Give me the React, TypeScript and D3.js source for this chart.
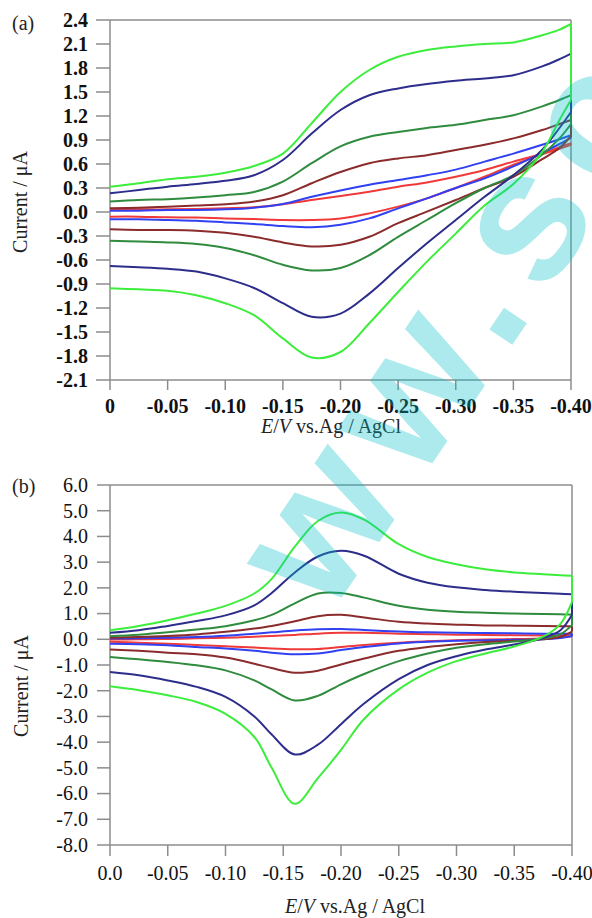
import React from 'react';
import * as d3 from 'd3';

// ---------- Panel (a) data ----------
const E_A = [0, -0.025, -0.05, -0.075, -0.1, -0.125, -0.15, -0.175, -0.2, -0.225, -0.25, -0.275, -0.3, -0.325, -0.35, -0.375, -0.39, -0.4];
const A_GREEN_UP = [0.317, 0.36, 0.41, 0.44, 0.49, 0.575, 0.73, 1.11, 1.5, 1.775, 1.94, 2.025, 2.07, 2.1, 2.12, 2.21, 2.28, 2.35];
const A_GREEN_LO = [-0.954, -0.967, -0.983, -1.04, -1.14, -1.29, -1.58, -1.82, -1.75, -1.39, -1.0, -0.62, -0.27, 0.08, 0.35, 0.75, 1.15, 1.4];
const A_NAVY_UP = [0.233, 0.275, 0.317, 0.35, 0.39, 0.46, 0.65, 0.98, 1.275, 1.46, 1.545, 1.6, 1.64, 1.67, 1.71, 1.82, 1.91, 1.98];
const A_NAVY_LO = [-0.675, -0.69, -0.71, -0.745, -0.83, -0.95, -1.14, -1.31, -1.27, -1.02, -0.7, -0.39, -0.1, 0.19, 0.46, 0.78, 1.05, 1.25];
const A_DKGREEN_UP = [0.13, 0.15, 0.16, 0.18, 0.21, 0.25, 0.38, 0.61, 0.82, 0.94, 1.0, 1.05, 1.09, 1.15, 1.21, 1.32, 1.4, 1.46];
const A_DKGREEN_LO = [-0.36, -0.37, -0.38, -0.4, -0.45, -0.54, -0.66, -0.73, -0.7, -0.54, -0.31, -0.1, 0.11, 0.3, 0.46, 0.72, 0.92, 1.1];
const A_BROWN_UP = [0.046, 0.054, 0.067, 0.08, 0.096, 0.13, 0.21, 0.36, 0.5, 0.61, 0.67, 0.71, 0.775, 0.84, 0.92, 1.025, 1.1, 1.15];
const A_BROWN_LO = [-0.217, -0.225, -0.225, -0.233, -0.26, -0.31, -0.38, -0.43, -0.41, -0.31, -0.14, 0.004, 0.15, 0.3, 0.44, 0.66, 0.8, 0.95];
const A_BLUE_UP = [0.017, 0.017, 0.025, 0.025, 0.033, 0.054, 0.1, 0.19, 0.27, 0.34, 0.4, 0.46, 0.53, 0.63, 0.73, 0.84, 0.91, 0.96];
const A_BLUE_LO = [-0.09, -0.09, -0.1, -0.11, -0.13, -0.15, -0.175, -0.19, -0.16, -0.08, 0.046, 0.17, 0.3, 0.42, 0.57, 0.74, 0.85, 0.93];
const A_RED_UP = [0.033, 0.033, 0.033, 0.037, 0.046, 0.058, 0.096, 0.15, 0.2, 0.254, 0.317, 0.37, 0.44, 0.525, 0.63, 0.73, 0.81, 0.86];
const A_RED_LO = [-0.058, -0.058, -0.067, -0.07, -0.08, -0.088, -0.1, -0.1, -0.08, -0.017, 0.067, 0.17, 0.3, 0.44, 0.59, 0.72, 0.79, 0.84];

const A_Y_TICKS = [2.4, 2.1, 1.8, 1.5, 1.2, 0.9, 0.6, 0.3, 0.0, -0.3, -0.6, -0.9, -1.2, -1.5, -1.8, -2.1];
const A_Y_LABELS = ['2.4', '2.1', '1.8', '1.5', '1.2', '0.9', '0.6', '0.3', '0.0', '-0.3', '-0.6', '-0.9', '-1.2', '-1.5', '-1.8', '-2.1'];
const A_X_TICKS = [0, -0.05, -0.1, -0.15, -0.2, -0.25, -0.3, -0.35, -0.4];
const A_X_LABELS = ['0', '-0.05', '-0.10', '-0.15', '-0.20', '-0.25', '-0.30', '-0.35', '-0.40'];

// ---------- Panel (b) data ----------
const E_B = [0, -0.025, -0.05, -0.075, -0.1, -0.125, -0.14, -0.16, -0.18, -0.2, -0.22, -0.25, -0.275, -0.3, -0.325, -0.35, -0.375, -0.39, -0.4];
const B_GREEN_UP = [0.35, 0.52, 0.74, 1.0, 1.3, 1.78, 2.35, 3.6, 4.6, 4.93, 4.65, 3.7, 3.2, 2.92, 2.72, 2.6, 2.53, 2.49, 2.47];
const B_GREEN_LO = [-1.83, -1.98, -2.18, -2.44, -2.9, -3.8, -5.0, -6.4, -5.4, -4.3, -3.1, -1.95, -1.3, -0.85, -0.55, -0.28, 0.1, 0.6, 1.45];
const B_NAVY_UP = [0.25, 0.35, 0.52, 0.71, 0.93, 1.32, 1.8, 2.6, 3.22, 3.44, 3.25, 2.55, 2.2, 2.02, 1.92, 1.85, 1.8, 1.77, 1.75];
const B_NAVY_LO = [-1.27, -1.4, -1.6, -1.85, -2.24, -3.0, -3.7, -4.48, -4.1, -3.3, -2.5, -1.55, -1.0, -0.66, -0.4, -0.2, 0.05, 0.35, 0.95];
const B_DKGREEN_UP = [0.12, 0.18, 0.27, 0.38, 0.51, 0.74, 0.95, 1.4, 1.78, 1.8, 1.62, 1.3, 1.15, 1.07, 1.03, 1.0, 0.98, 0.97, 0.96];
const B_DKGREEN_LO = [-0.69, -0.78, -0.88, -1.01, -1.21, -1.6, -1.95, -2.38, -2.2, -1.75, -1.35, -0.85, -0.55, -0.33, -0.19, -0.09, 0.03, 0.2, 0.55];
const B_BROWN_UP = [0.06, 0.09, 0.13, 0.19, 0.29, 0.42, 0.52, 0.7, 0.9, 0.95, 0.85, 0.68, 0.61, 0.57, 0.54, 0.53, 0.52, 0.51, 0.51];
const B_BROWN_LO = [-0.4, -0.45, -0.52, -0.58, -0.71, -0.95, -1.12, -1.3, -1.22, -0.98, -0.75, -0.45, -0.3, -0.19, -0.11, -0.06, 0.0, 0.1, 0.3];
const B_BLUE_UP = [0.03, 0.04, 0.06, 0.09, 0.14, 0.22, 0.27, 0.34, 0.39, 0.4, 0.36, 0.3, 0.27, 0.25, 0.24, 0.23, 0.22, 0.22, 0.22];
const B_BLUE_LO = [-0.17, -0.19, -0.23, -0.3, -0.36, -0.45, -0.52, -0.58, -0.55, -0.42, -0.3, -0.16, -0.1, -0.06, -0.04, -0.02, 0.0, 0.05, 0.12];
const B_RED_UP = [-0.01, 0.0, 0.01, 0.04, 0.06, 0.1, 0.13, 0.17, 0.22, 0.25, 0.25, 0.22, 0.2, 0.18, 0.17, 0.16, 0.15, 0.14, 0.14];
const B_RED_LO = [-0.1, -0.13, -0.17, -0.22, -0.27, -0.32, -0.36, -0.39, -0.38, -0.3, -0.22, -0.13, -0.08, -0.04, -0.01, 0.01, 0.03, 0.07, 0.14];

const B_Y_TICKS = [6, 5, 4, 3, 2, 1, 0, -1, -2, -3, -4, -5, -6, -7, -8];
const B_Y_LABELS = ['6.0', '5.0', '4.0', '3.0', '2.0', '1.0', '0.0', '-1.0', '-2.0', '-3.0', '-4.0', '-5.0', '-6.0', '-7.0', '-8.0'];
const B_X_TICKS = [0, -0.05, -0.1, -0.15, -0.2, -0.25, -0.3, -0.35, -0.4];
const B_X_LABELS = ['0.0', '-0.05', '-0.10', '-0.15', '-0.20', '-0.25', '-0.30', '-0.35', '-0.40'];

const COLORS = {
  red: '#f03a3a',
  blue: '#3040f2',
  brown: '#8b2b2b',
  dkgreen: '#2f8b3e',
  navy: '#2d2d8c',
  green: '#3ced3c',
};

const SERIES_A = [
  { color: COLORS.red, up: A_RED_UP, lo: A_RED_LO },
  { color: COLORS.blue, up: A_BLUE_UP, lo: A_BLUE_LO },
  { color: COLORS.brown, up: A_BROWN_UP, lo: A_BROWN_LO },
  { color: COLORS.dkgreen, up: A_DKGREEN_UP, lo: A_DKGREEN_LO },
  { color: COLORS.navy, up: A_NAVY_UP, lo: A_NAVY_LO },
  { color: COLORS.green, up: A_GREEN_UP, lo: A_GREEN_LO },
];
const SERIES_B = [
  { color: COLORS.red, up: B_RED_UP, lo: B_RED_LO },
  { color: COLORS.blue, up: B_BLUE_UP, lo: B_BLUE_LO },
  { color: COLORS.brown, up: B_BROWN_UP, lo: B_BROWN_LO },
  { color: COLORS.dkgreen, up: B_DKGREEN_UP, lo: B_DKGREEN_LO },
  { color: COLORS.navy, up: B_NAVY_UP, lo: B_NAVY_LO },
  { color: COLORS.green, up: B_GREEN_UP, lo: B_GREEN_LO },
];

const AXIS = '#8c8c8c';
const SERIF = '"Liberation Serif", "Times New Roman", serif';

type PanelProps = {
  E: number[];
  series: { color: string; up: number[]; lo: number[] }[];
  left: number; right: number; top: number; bottom: number;
  yDomain: [number, number];
  yTicks: number[]; yLabels: string[];
  xTicks: number[]; xLabels: string[];
  bold: boolean;
  tag: string; tagY: number;
  xLabelY: number; xTitleX: number; xTitleY: number;
  yTitleX: number; yTitleY: number;
  yTickLen: number; xTickLen: number;
};

function Panel(p: PanelProps) {
  const x = d3.scaleLinear().domain([0, -0.4]).range([p.left, p.right]);
  const y = d3.scaleLinear().domain(p.yDomain).range([p.bottom, p.top]);
  const line = d3.line<number>()
    .x((_, i) => x(p.E[i]))
    .y((d) => y(d))
    .curve(d3.curveCatmullRom.alpha(0.5));
  const last = p.E.length - 1;
  const fw = p.bold ? 'bold' : 'normal';
  return (
    <g>
      {/* frame */}
      <line x1={p.left} x2={p.right} y1={p.top} y2={p.top} stroke={AXIS} strokeWidth={1.5} />
      <line x1={p.right} x2={p.right} y1={p.top} y2={p.bottom} stroke={AXIS} strokeWidth={1.5} />
      <line x1={p.left} x2={p.right} y1={p.bottom} y2={p.bottom} stroke={AXIS} strokeWidth={1.5} />
      <line x1={p.left} x2={p.left} y1={p.top} y2={p.bottom} stroke={AXIS} strokeWidth={1.5} />
      {/* curves */}
      {p.series.map((s, k) => (
        <g key={k} fill="none" stroke={s.color} strokeWidth={2}>
          <path d={line(s.lo) || ''} />
          <path d={line(s.up) || ''} />
          <line x1={x(p.E[last])} x2={x(p.E[last])} y1={y(s.lo[last])} y2={y(s.up[last])} />
        </g>
      ))}
      {/* y ticks */}
      {p.yTicks.map((t, i) => (
        <g key={'y' + i}>
          <line x1={p.left - p.yTickLen} x2={p.left} y1={y(t)} y2={y(t)} stroke={AXIS} strokeWidth={1.5} />
          <text x={p.left - 22} y={y(t)} dy="0.34em" textAnchor="end" fontFamily={SERIF} fontWeight={fw} fontSize={20} fill="#111">
            {p.yLabels[i]}
          </text>
        </g>
      ))}
      {/* x ticks */}
      {p.xTicks.map((t, i) => (
        <g key={'x' + i}>
          <line x1={x(t)} x2={x(t)} y1={p.bottom} y2={p.bottom + p.xTickLen} stroke={AXIS} strokeWidth={1.5} />
          <text x={x(t)} y={p.xLabelY} textAnchor="middle" fontFamily={SERIF} fontWeight={fw} fontSize={20} fill="#111">
            {p.xLabels[i]}
          </text>
        </g>
      ))}
      {/* titles */}
      <text x={p.xTitleX} y={p.xTitleY} textAnchor="middle" fontFamily={SERIF} fontSize={20} fill="#222">
        <tspan fontStyle="italic">E</tspan>/<tspan fontStyle="italic">V</tspan> vs.Ag / AgCl
      </text>
      <text transform={`translate(${p.yTitleX},${p.yTitleY}) rotate(-90)`} textAnchor="middle" fontFamily={SERIF} fontSize={20} fill="#222">
        Current / μA
      </text>
      <text x={12} y={p.tagY} fontFamily={SERIF} fontSize={20} fill="#222">{p.tag}</text>
    </g>
  );
}

export default function App() {
  return (
    <svg width={592} height={918} style={{ position: 'absolute', left: 0, top: 0, background: '#fff' }}>
      <rect width={592} height={918} fill="#fff" />
      <Panel
        E={E_A} series={SERIES_A}
        left={110} right={571} top={20} bottom={380}
        yDomain={[-2.1, 2.4]} yTicks={A_Y_TICKS} yLabels={A_Y_LABELS}
        xTicks={A_X_TICKS} xLabels={A_X_LABELS} bold={true}
        tag="(a)" tagY={30}
        xLabelY={413} xTitleX={331} xTitleY={433}
        yTitleX={27} yTitleY={202}
        yTickLen={14} xTickLen={10}
      />
      <Panel
        E={E_B} series={SERIES_B}
        left={110} right={572} top={485} bottom={845}
        yDomain={[-8, 6]} yTicks={B_Y_TICKS} yLabels={B_Y_LABELS}
        xTicks={B_X_TICKS} xLabels={B_X_LABELS} bold={false}
        tag="(b)" tagY={493}
        xLabelY={880} xTitleX={355} xTitleY={913}
        yTitleX={28} yTitleY={686}
        yTickLen={13} xTickLen={11}
      />
      <text
        transform="translate(328,618) rotate(-56)"
        fontFamily='"Liberation Sans", Arial, sans-serif'
        fontWeight="bold"
        fontSize={185}
        letterSpacing={18}
        fill="#00c0c8"
        opacity={0.32}
      >
        ww.sc
      </text>
    </svg>
  );
}
